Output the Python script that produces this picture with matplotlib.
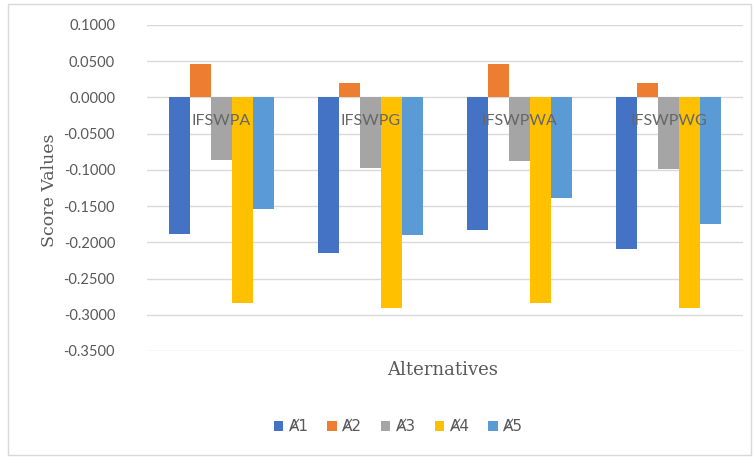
import numpy as np
import matplotlib.pyplot as plt
from matplotlib.patches import Rectangle

# score values of each alternative under the four operators
operators = ["IFSWPA", "IFSWPG", "IFSWPWA", "IFSWPWG"]
series = ["Ⱥ1", "Ⱥ2", "Ⱥ3", "Ⱥ4", "Ⱥ5"]
a1 = [-0.1887, -0.2149, -0.1832, -0.2098]
a2 = [0.0464, 0.0202, 0.0464, 0.0202]
a3 = [-0.0863, -0.0969, -0.0882, -0.0992]
a4 = [-0.2837, -0.2906, -0.2837, -0.2906]
a5 = [-0.1533, -0.1905, -0.1382, -0.1750]
yticks = [0.1, 0.05, 0.0, -0.05, -0.1, -0.15, -0.2, -0.25, -0.3, -0.35]

colors = ["#4472C4", "#ED7D31", "#A5A5A5", "#FFC000", "#5B9BD5"]
txt = "#595959"

fig = plt.figure(figsize=(7.53, 4.57), dpi=100)
ax = fig.add_axes([147/753, 1-351/457, 596/753, 326/457])

x = np.arange(len(operators))
w = 0.141
for i, vals in enumerate([a1, a2, a3, a4, a5]):
    ax.bar(x + (i - 2) * w, vals, w, color=colors[i], label=series[i], zorder=2)

ax.set_xlim(-0.5, len(operators) - 0.5)
ax.set_ylim(-0.35, 0.1)
ax.set_yticks(yticks)
ax.set_yticklabels([f"{v:.4f}" for v in yticks], fontfamily="Lato", fontsize=10.5, color=txt)
ax.grid(axis="y", color="#D9D9D9", lw=1, zorder=0)
ax.tick_params(axis="y", length=0, pad=23)
ax.set_xticks([])
for s in ax.spines.values():
    s.set_visible(False)

# category names sit just under the zero line
for xi, name in zip(x, operators):
    ax.text(xi, -0.032, name, ha="center", va="center", fontfamily="Lato",
            fontsize=11.5, color="#666666", zorder=5)

fig.text(50/753, 1-190/457, "Score Values", rotation=90, ha="center", va="center",
         fontfamily="DejaVu Serif", fontsize=12.5, color=txt)
fig.text(443/753, 1-370/457, "Alternatives", ha="center", va="center",
         fontfamily="DejaVu Serif", fontsize=13, color=txt)

fig.legend(loc="center", bbox_to_anchor=(398/753, 1-427/457), ncol=5, frameon=False,
           prop={"family": "DejaVu Sans", "size": 11}, labelcolor=txt,
           handlelength=0.6, handleheight=0.6, handletextpad=0.3, columnspacing=1.3)

fig.patches.append(Rectangle((8/753, 2/457), 743/753, 451/457, transform=fig.transFigure,
                             fill=False, edgecolor="#D9D9D9", lw=1))

fig.savefig("out.png", dpi=100)
